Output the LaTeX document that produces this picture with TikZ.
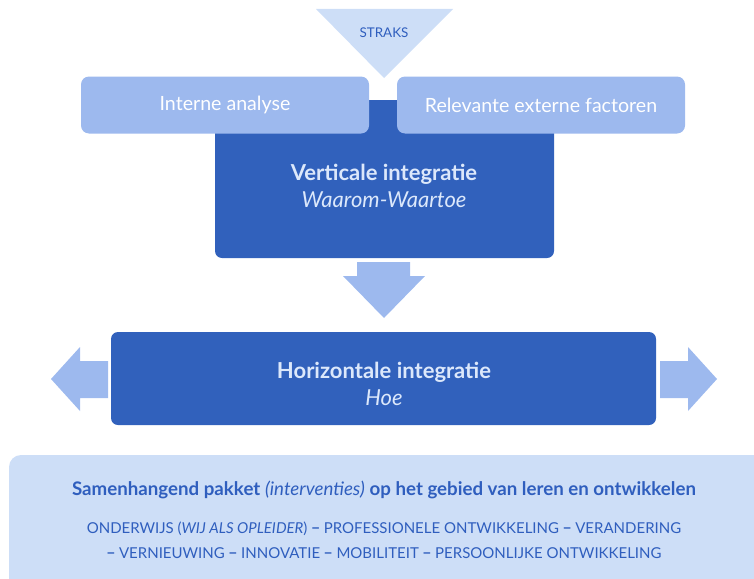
\documentclass[tikz,border=0pt]{standalone}
\usepackage{fontspec}
\setmainfont{Lato}
\definecolor{lightfill}{HTML}{CDDEF7}
\definecolor{midfill}{HTML}{9DB9EE}
\definecolor{darkfill}{HTML}{3161BC}
\definecolor{darktext}{HTML}{2F5EBE}
\definecolor{paletext}{HTML}{DCE8FB}
\begin{document}
\begin{tikzpicture}[x=1pt,y=-1pt,
  lightbox/.style={fill=midfill,rounded corners=8pt,minimum width=288pt,minimum height=57pt,inner sep=0pt,text=white,font=\fontsize{19.6}{23}\selectfont},
  titletext/.style={text=paletext,align=center,font=\fontsize{22}{26.5}\selectfont}]
\useasboundingbox (0,0) rectangle (754,578);
% bottom panel
\begin{scope}
\clip (0,0) rectangle (754,578);
\fill[lightfill,rounded corners=12pt] (9,455) rectangle (790,610);
\end{scope}
% triangle
\fill[lightfill] (316,9) -- (453,9) -- (384,78) -- cycle;
\node[text=darktext,font=\fontsize{13.4}{15}\selectfont] (straks) at (384,33) {STRAKS};
% dark vertical box
\fill[darkfill,rounded corners=7pt] (215,100) rectangle (554,258);
\node[titletext] (vert) at (384,186)
  {\textbf{Verticale integratie}\\\textit{Waarom-Waartoe}};
% light boxes
\node[lightbox] (intern) at (225,105) {Interne analyse};
\node[lightbox] (extern) at (541,105) {Relevante externe factoren};
% down arrow
\fill[midfill] (357,262) -- (410,262) -- (410,276) -- (425,276) -- (384,318) -- (343,276) -- (357,276) -- cycle;
% horizontal box
\fill[darkfill,rounded corners=7pt] (111,332) rectangle (656,425);
\node[titletext] (hor) at (384,384)
  {\textbf{Horizontale integratie}\\\textit{Hoe}};
% side arrows
\fill[midfill] (108,361) -- (80,361) -- (80,347) -- (51,379) -- (80,411) -- (80,398) -- (108,398) -- cycle;
\fill[midfill] (660,361) -- (688,361) -- (688,347) -- (717,379) -- (688,411) -- (688,398) -- (660,398) -- cycle;
% bottom texts
\node[text=darktext,font=\fontsize{18.7}{22}\selectfont] (pakket) at (384,490)
  {\textbf{Samenhangend pakket} \textit{(interventies)} \textbf{op het gebied van leren en ontwikkelen}};
\node[text=darktext,font=\fontsize{15}{25}\selectfont,align=center] (items) at (384,540)
  {ONDERWIJS (\textit{WIJ ALS OPLEIDER}) \textbf{−} PROFESSIONELE ONTWIKKELING \textbf{−} VERANDERING\\
   \textbf{−} VERNIEUWING \textbf{−} INNOVATIE \textbf{−} MOBILITEIT \textbf{−} PERSOONLIJKE ONTWIKKELING};
\end{tikzpicture}
\end{document}
